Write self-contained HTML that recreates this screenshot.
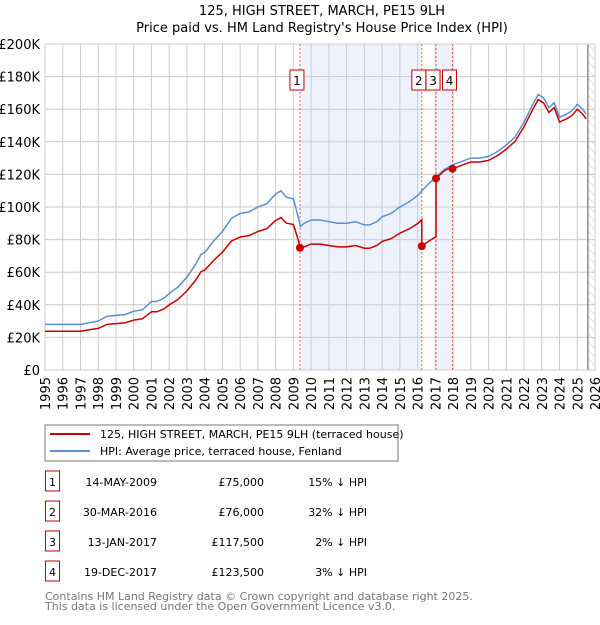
<!DOCTYPE html>
<html><head><meta charset="utf-8"><style>
body{margin:0;background:#fff;font-family:"Liberation Sans","DejaVu Sans",sans-serif;}
svg text{font-family:"DejaVu Sans","Liberation Sans",sans-serif;}
</style></head><body>
<svg id="c" width="600" height="620" xmlns="http://www.w3.org/2000/svg">
<defs><pattern id="hatch" width="6" height="6" patternUnits="userSpaceOnUse" patternTransform="rotate(-45)"><line x1="0" y1="0" x2="0" y2="6" stroke="#ccc" stroke-width="1"/></pattern></defs>
<text x="322" y="15" text-anchor="middle" font-size="13">125, HIGH STREET, MARCH, PE15 9LH</text>
<text x="322" y="32" text-anchor="middle" font-size="13">Price paid vs. HM Land Registry's House Price Index (HPI)</text>
<g id="plot"></g>
<rect x="45" y="425" width="353" height="36" fill="#fff" stroke="#777"/>
<line x1="50" y1="434" x2="90" y2="434" stroke="#cc0000" stroke-width="2"/>
<text x="100" y="438" font-size="11">125, HIGH STREET, MARCH, PE15 9LH (terraced house)</text>
<line x1="50" y1="451" x2="90" y2="451" stroke="#5b8fd4" stroke-width="2"/>
<text x="100" y="455" font-size="11">HPI: Average price, terraced house, Fenland</text>
<g id="table"></g>
<text x="45" y="600" font-size="11" fill="#777">Contains HM Land Registry data © Crown copyright and database right 2025.</text>
<text x="45" y="610" font-size="11" fill="#777">This data is licensed under the Open Government Licence v3.0.</text>
</svg>
<script>
const hpiT=[1995,1996,1997,1997.5,1998,1998.5,1999,1999.5,2000,2000.5,2001,2001.3,2001.7,2002,2002.5,2003,2003.5,2003.8,2004,2004.5,2005,2005.5,2006,2006.5,2007,2007.5,2008,2008.3,2008.6,2009,2009.2,2009.4,2009.6,2010,2010.5,2011,2011.5,2012,2012.5,2013,2013.3,2013.7,2014,2014.5,2015,2015.5,2016,2016.5,2017,2017.5,2018,2018.5,2019,2019.5,2020,2020.5,2021,2021.5,2022,2022.5,2022.8,2023.1,2023.4,2023.7,2024,2024.4,2024.7,2025,2025.3,2025.5];
const hpiV=[28,28,28,29,30,33,33.5,34,36,37,42,42,44,47,51,57,65,71,72,79,85,93,96,97,100,102,108,110,106,105,97,88,90,92,92,91,90,90,91,89,89,91,94,96,100,103,107,113,118,123,126,128,130,130,131,134,138,143,152,163,169,167,161,164,155,157,159,163,160,157];
const saleLabels=["1","2","3","4"];
const saleT=[2009.37,2016.24,2017.04,2017.97];
const saleDates=["14-MAY-2009","30-MAR-2016","13-JAN-2017","19-DEC-2017"];
const saleP=[75000,76000,117500,123500];
const salePriceText=["£75,000","£76,000","£117,500","£123,500"];
const saleDiff=["15% ↓ HPI","32% ↓ HPI","2% ↓ HPI","3% ↓ HPI"];
const yTicks=[0,20,40,60,80,100,120,140,160,180,200];
const yLabels=["£0","£20K","£40K","£60K","£80K","£100K","£120K","£140K","£160K","£180K","£200K"];
const years=[1995,1996,1997,1998,1999,2000,2001,2002,2003,2004,2005,2006,2007,2008,2009,2010,2011,2012,2013,2014,2015,2016,2017,2018,2019,2020,2021,2022,2023,2024,2025,2026];
const X0=45,X1=595,Y0=370,Y1=44;
const sx=t=>X0+(t-1995)/(2026-1995)*(X1-X0);
const sy=v=>Y0-v/200*(Y0-Y1);
const NS="http://www.w3.org/2000/svg";
const plot=document.getElementById('plot');
function mk(tag,attrs,parent){const e=document.createElementNS(NS,tag);for(const k in attrs)e.setAttribute(k,attrs[k]);(parent||plot).appendChild(e);return e;}
function hpiAt(t){if(t<=hpiT[0])return hpiV[0];for(let i=1;i<hpiT.length;i++){if(t<=hpiT[i]){const f=(t-hpiT[i-1])/(hpiT[i]-hpiT[i-1]);return hpiV[i-1]+f*(hpiV[i]-hpiV[i-1]);}}return hpiV[hpiV.length-1];}
let e;
e=mk('rect',{x:X0,y:Y1,width:X1-X0,height:Y0-Y1,fill:'#fff'});
// shaded ownership periods
e=mk('rect',{x:sx(saleT[0]),y:Y1,width:sx(saleT[1])-sx(saleT[0]),height:Y0-Y1,fill:'#eef2fc'});


e=mk('rect',{x:sx(saleT[2]),y:Y1,width:sx(saleT[3])-sx(saleT[2]),height:Y0-Y1,fill:'#eef2fc'});


e=mk('rect',{x:sx(2025.6),y:Y1,width:X1-sx(2025.6),height:Y0-Y1,fill:'url(#hatch)'});


yTicks.forEach((v,i)=>{
 e=mk('line',{x1:X0,x2:X1,y1:sy(v),y2:sy(v),stroke:'#ccc','stroke-width':1});
 
 
 e=mk('text',{x:40,y:sy(v)+5,'text-anchor':'end','font-size':13});
 e.textContent=yLabels[i];
 
 
});
years.forEach(y=>{
 e=mk('line',{x1:sx(y),x2:sx(y),y1:Y1,y2:Y0,stroke:'#ccc','stroke-width':1});
 
 
 e=mk('text',{x:0,y:0,'text-anchor':'end','font-size':13,transform:`translate(${sx(y)+5},377) rotate(-90)`});
 e.textContent=y;
 
 
});
e=mk('line',{x1:sx(2025.6),x2:sx(2025.6),y1:Y1,y2:Y0,stroke:'#555','stroke-width':1});


e=mk('rect',{x:X0,y:Y1,width:X1-X0,height:Y0-Y1,fill:'none',stroke:'#ccc'});
// sale lines
saleT.forEach((t,i)=>{
 e=mk('line',{x1:sx(t),x2:sx(t),y1:Y1,y2:Y0,stroke:'#e06060','stroke-width':1,'stroke-dasharray':'2,2'});
 
 
});
// HPI line
let d=hpiT.map((t,i)=>(i?'L':'M')+sx(t).toFixed(1)+','+sy(hpiV[i]).toFixed(1)).join('');
e=mk('path',{d:d,fill:'none',stroke:'#5b8fd4','stroke-width':1.5});


// price line scaled from HPI relative to each sale
const pts=[];
const firstRatio=0.85;
function ratioAt(t){let r=firstRatio;for(let i=0;i<saleT.length;i++){if(t>=saleT[i])r=saleP[i]/1000/hpiAt(saleT[i]);}return r;}
const allT=hpiT.concat(saleT).sort((a,b)=>a-b);
allT.forEach(t=>{
 const idx=saleT.indexOf(t);
 if(idx>=0){const prev=idx===0?firstRatio:saleP[idx-1]/1000/hpiAt(saleT[idx-1]);pts.push([t,hpiAt(t)*prev]);pts.push([t,saleP[idx]/1000]);}
 else pts.push([t,hpiAt(t)*ratioAt(t)]);
});
d=pts.map((p,i)=>(i?'L':'M')+sx(p[0]).toFixed(1)+','+sy(p[1]).toFixed(1)).join('');
e=mk('path',{d:d,fill:'none',stroke:'#cc0000','stroke-width':1.5});


saleT.forEach((t,i)=>{
 e=mk('circle',{cx:sx(t),cy:sy(saleP[i]/1000),r:4,fill:'#cc0000'});
 
 
 const bx=sx(t)-3;
 e=mk('rect',{x:bx-7,y:70,width:14,height:20,fill:'#fff',stroke:'#cc0000'});
 
 
 e=mk('text',{x:bx,y:85,'text-anchor':'middle','font-size':12});
 e.textContent=saleLabels[i];
 
 
});
// table
const tb=document.getElementById('table');
saleT.forEach((t,i)=>{
 const y=483+i*30;
 e=mk('rect',{x:45.5,y:y-12,width:14,height:20,fill:'#fff',stroke:'#cc0000'},tb);
 
 
 e=mk('text',{x:52.5,y:y+3,'text-anchor':'middle','font-size':11},tb);e.textContent=saleLabels[i];
 
 
 e=mk('text',{x:157,y:y+3,'text-anchor':'end','font-size':11},tb);e.textContent=saleDates[i];
 
 
 e=mk('text',{x:264,y:y+3,'text-anchor':'end','font-size':11},tb);e.textContent=salePriceText[i];
 
 
 e=mk('text',{x:367,y:y+3,'text-anchor':'end','font-size':11},tb);e.textContent=saleDiff[i];
 
 
});
</script>
</body></html>
